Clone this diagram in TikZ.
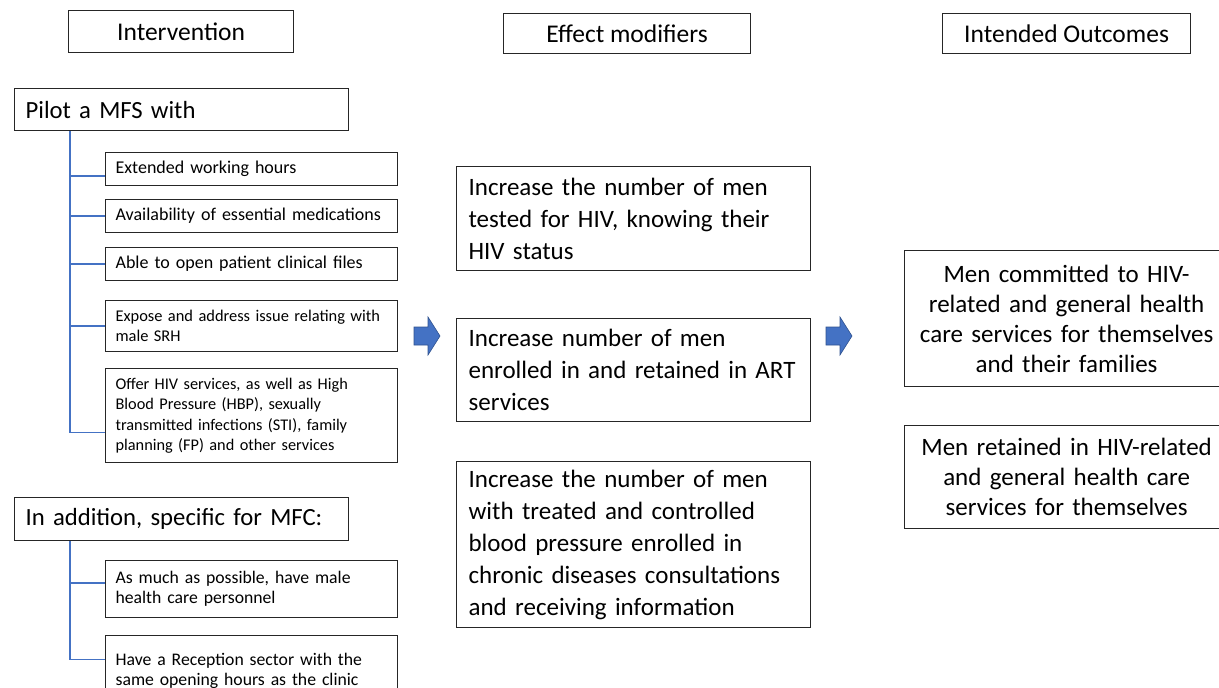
\documentclass[tikz,border=0pt]{standalone}
\usepackage{fontspec}
\setmainfont{Carlito}
\definecolor{azul}{HTML}{4472C4}
\definecolor{azuloscuro}{HTML}{2F528F}
\definecolor{borde}{HTML}{262626}

\begin{document}
\begin{tikzpicture}[x=1pt, y=-1pt,
    caja/.style={draw=borde, line width=1.2pt, anchor=north west, inner ysep=0pt},
    cabecera/.style={caja, inner xsep=0pt, align=center, font=\fontsize{25.5}{30}\selectfont},
    titulo/.style={caja, inner xsep=11pt, align=left, text width=312pt, font=\fontsize{24.7}{29}\selectfont},
    item/.style={caja, inner xsep=10pt, align=left, text width=272pt},
    efecto/.style={caja, inner xsep=12pt, align=left, text width=330pt, font=\fontsize{25}{32}\selectfont},
    resultado/.style={caja, inner xsep=11pt, align=center, text width=302pt, font=\fontsize{25}{30}\selectfont},
    rama/.style={draw=azul, line width=1.3pt},
    flecha/.style={fill=azul, draw=azuloscuro, line width=0.6pt}]

    \useasboundingbox (0,0) rectangle (1219,688);

    % bloque de flecha: #1 = centro
    \newcommand{\flechabloque}[1]{%
        \draw[flecha, shift={#1}] (-13,-9) -- (1,-9) -- (1,-19) -- (13,0)
            -- (1,19) -- (1,9) -- (-13,9) -- cycle;}

    % cabeceras
    \node[cabecera, minimum width=225pt, minimum height=42pt] (intervencion) at (68,10) {Intervention};
    \node[cabecera, minimum width=247pt, minimum height=40pt] (modificadores) at (503,13) {Effect modifiers};
    \node[cabecera, minimum width=248pt, minimum height=40pt] (resultados) at (942,13) {Intended Outcomes};

    % intervencion
    \node[titulo, minimum height=42pt] (piloto) at (14,88) {Pilot a MFS with};
    \node[item, minimum height=33pt, font=\fontsize{18}{20}\selectfont] (horario) at (105,152) {Extended working hours};
    \node[item, minimum height=33pt, font=\fontsize{18}{20}\selectfont] (medicamentos) at (105,199) {Availability of essential medications};
    \node[item, minimum height=33pt, font=\fontsize{18}{20}\selectfont] (archivos) at (105,247) {Able to open patient clinical files};
    \node[item, minimum height=51pt, font=\fontsize{16.4}{20}\selectfont] (srh) at (105,300)
        {Expose and address issue relating with\\ male SRH};
    \node[item, minimum height=94pt, font=\fontsize{16.3}{20.3}\selectfont] (servicios) at (105,368)
        {Offer HIV services, as well as High\\ Blood Pressure (HBP), sexually\\ transmitted infections (STI), family\\ planning (FP) and other services};

    \node[titulo, minimum height=43pt] (adicional) at (14,497) {In addition, specific for MFC:};
    \node[item, minimum height=57pt, font=\fontsize{17.7}{20}\selectfont] (personal) at (105,560)
        {As much as possible, have male\\ health care personnel};
    \node[item, minimum height=70pt, font=\fontsize{17.7}{20}\selectfont] (recepcion) at (105,635)
        {Have a Reception sector with the\\ same opening hours as the clinic};

    % ramas azules
    \coordinate (tronco1) at ([xshift=56pt]piloto.south west);
    \draw[rama] (tronco1) |- ([yshift=-7pt]horario.west);
    \draw[rama] (tronco1) |- (medicamentos.west);
    \draw[rama] (tronco1) |- (archivos.west);
    \draw[rama] (tronco1) |- (srh.west);
    \draw[rama] (tronco1) |- ([yshift=-17pt]servicios.west);
    \coordinate (tronco2) at ([xshift=56pt]adicional.south west);
    \draw[rama] (tronco2) |- ([yshift=6pt]personal.west);
    \draw[rama] (tronco2) |- ([yshift=11pt]recepcion.west);

    % modificadores
    \node[efecto, minimum height=104pt] (prueba) at (456,166)
        {Increase the number of men\\ tested for HIV, knowing their\\ HIV status};
    \node[efecto, minimum height=103pt] (tar) at (456,318)
        {Increase number of men\\ enrolled in and retained in ART\\ services};
    \node[efecto, minimum height=166pt] (presion) at (456,461)
        {Increase the number of men\\ with treated and controlled\\ blood pressure enrolled in\\ chronic diseases consultations\\ and receiving information};

    % resultados
    \node[resultado, minimum height=136pt] (compromiso) at (904,250)
        {Men committed to HIV-\\ related and general health\\ care services for themselves\\ and their families};
    \node[resultado, minimum height=103pt] (retencion) at (904,425)
        {Men retained in HIV-related\\ and general health care\\ services for themselves};

    \flechabloque{(427,336)}
    \flechabloque{(839,336)}

\end{tikzpicture}
\end{document}
